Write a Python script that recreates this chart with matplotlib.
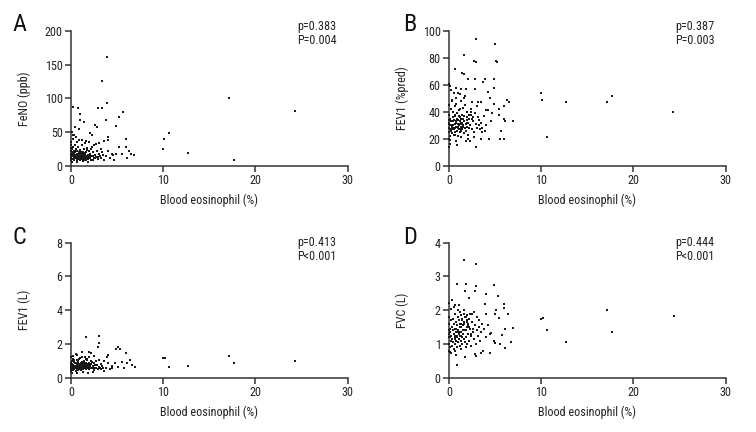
import matplotlib
matplotlib.use("Agg")
import matplotlib.pyplot as plt
from matplotlib import font_manager

# ---------------- data: (blood eosinophil %, value) ----------------
# Panel A: FeNO (ppb)
points_feno = [
    (3.87, 161), (3.4, 126), (3.9, 93), (2.9, 85), (3.4, 85), (0.25, 87), (0.8, 85), (0.94, 77),
    (5.6, 79), (5.2, 72), (3.8, 68), (1.45, 65), (0.98, 68), (2.6, 61), (2.8, 58), (4.9, 59),
    (0.43, 58), (0.9, 55), (2.1, 48), (2.3, 45), (0.15, 50), (0.25, 45), (4.05, 43), (4.0, 38),
    (3.6, 36), (6.0, 40), (6.0, 28), (5.2, 28), (6.3, 22), (6.5, 18), (6.8, 16), (4.9, 17),
    (4.6, 16), (5.5, 17), (6.1, 12), (4.7, 8), (2.9, 13),
    (10.1, 40), (10.6, 49), (10.0, 25), (12.65, 19), (17.17, 100), (17.67, 8), (24.3, 81),
    (0.0, 12), (0.0, 18), (0.0, 22), (0.0, 30), (0.0, 8), (0.05, 15), (0.1, 25), (0.1, 10),
    (0.15, 20), (0.2, 14), (0.2, 28), (0.25, 17), (0.3, 12), (0.3, 22), (0.35, 9), (0.4, 16),
    (0.4, 30), (0.45, 20), (0.5, 13), (0.5, 25), (0.55, 11), (0.6, 18), (0.6, 35), (0.65, 14),
    (0.7, 22), (0.7, 9), (0.75, 16), (0.8, 12), (0.8, 28), (0.85, 19), (0.9, 15), (0.9, 38),
    (0.95, 13), (1.0, 17), (1.0, 24), (1.0, 8), (1.05, 14), (1.1, 12), (1.1, 20), (1.15, 15),
    (1.2, 13), (1.2, 30), (1.25, 16), (1.3, 11), (1.3, 18), (1.35, 14), (1.4, 15), (1.4, 25),
    (1.45, 12), (1.5, 16), (1.5, 33), (1.55, 13), (1.6, 15), (1.6, 20), (1.65, 11), (1.7, 14),
    (1.7, 27), (1.8, 16), (1.8, 10), (1.9, 13), (1.9, 22), (2.0, 15), (2.0, 35), (2.1, 12),
    (2.1, 18), (2.2, 9), (2.2, 25), (2.3, 14), (2.4, 20), (2.5, 11), (2.5, 30), (2.6, 16),
    (2.7, 13), (2.8, 22), (2.9, 10), (3.0, 18), (3.0, 33), (3.1, 14), (3.2, 25), (3.3, 12),
    (3.4, 20), (3.5, 16), (3.6, 9), (3.8, 15), (4.0, 22), (4.2, 12), (4.4, 18), (0.2, 40),
    (0.5, 42), (1.2, 38), (1.6, 36), (2.3, 28), (2.7, 32), (0.1, 5), (0.6, 6), (1.3, 7),
    (1.8, 6), (2.4, 8), (0.05, 35), (0.3, 45), (0.0, 15), (0.1, 20), (0.2, 18), (0.35, 13),
    (0.45, 16), (0.55, 14), (0.65, 17), (0.75, 13), (0.85, 15), (0.95, 14), (1.05, 16), (1.15, 13),
    (1.25, 15), (1.35, 14), (1.45, 16), (1.55, 12), (1.65, 15), (1.75, 14), (1.85, 13), (1.95, 16),
    (2.05, 12), (2.15, 15), (2.35, 14), (2.55, 11), (2.75, 13), (0.0, 26), (0.1, 21), (0.3, 19),
    (0.5, 23), (0.7, 18), (0.9, 20), (1.1, 17), (1.3, 21), (1.5, 19), (1.7, 23), (1.2, 10),
    (1.4, 9), (1.0, 11), (0.8, 10), (1.6, 9),
]

# Panel B: FEV1 (%pred)
points_fev1_pred = [
    (2.96, 94), (5.0, 90), (1.63, 82), (2.7, 78), (2.96, 77), (5.2, 77), (5.06, 78), (0.69, 72),
    (1.45, 69), (1.63, 68), (0.0, 61), (0.15, 59), (2.06, 64), (2.86, 64), (3.87, 64), (3.7, 62),
    (4.9, 64), (4.9, 58), (2.8, 57), (0.8, 58), (1.3, 57), (0.98, 54), (1.7, 52), (1.2, 53),
    (0.8, 50), (0.3, 49), (6.3, 49), (6.5, 47), (6.0, 44), (4.9, 46), (2.5, 47), (3.1, 47),
    (3.5, 47), (4.0, 41), (4.2, 41), (5.4, 42), (4.7, 39), (6.0, 35), (6.1, 33), (6.9, 33),
    (5.4, 38), (4.6, 33), (3.6, 28), (3.9, 26), (5.6, 26), (4.3, 20), (5.5, 20), (6.0, 20),
    (3.5, 20), (2.96, 14), (2.06, 20), (1.8, 18), (0.72, 18), (0.87, 15), (0.15, 16), (0.0, 14),
    (9.94, 54), (10.1, 49), (10.6, 21), (12.65, 47), (17.17, 47), (17.7, 52), (24.3, 40),
    (0.0, 25), (0.0, 32), (0.0, 38), (0.0, 45), (0.0, 20), (0.05, 28), (0.1, 35), (0.1, 22),
    (0.15, 30), (0.2, 26), (0.2, 42), (0.25, 33), (0.3, 27), (0.3, 48), (0.35, 24), (0.4, 36),
    (0.4, 30), (0.45, 40), (0.5, 27), (0.5, 34), (0.55, 23), (0.6, 31), (0.6, 44), (0.65, 28),
    (0.7, 37), (0.7, 25), (0.75, 32), (0.8, 29), (0.8, 46), (0.85, 35), (0.9, 26), (0.9, 39),
    (0.95, 31), (1.0, 28), (1.0, 34), (1.0, 22), (1.05, 30), (1.1, 27), (1.1, 41), (1.15, 33),
    (1.2, 25), (1.2, 36), (1.25, 29), (1.3, 32), (1.3, 48), (1.35, 26), (1.4, 38), (1.4, 31),
    (1.45, 27), (1.5, 35), (1.5, 43), (1.55, 29), (1.6, 33), (1.6, 24), (1.65, 37), (1.7, 28),
    (1.7, 45), (1.8, 31), (1.8, 26), (1.9, 34), (1.9, 40), (2.0, 29), (2.0, 36), (2.1, 23),
    (2.1, 32), (2.2, 28), (2.2, 38), (2.3, 30), (2.4, 42), (2.5, 27), (2.5, 35), (2.6, 33),
    (2.7, 25), (2.8, 39), (2.9, 31), (3.0, 44), (3.0, 28), (3.1, 36), (3.2, 30), (3.3, 34),
    (3.4, 27), (3.5, 32), (3.6, 25), (3.8, 37), (4.0, 30), (4.2, 55), (4.4, 50), (0.2, 56),
    (0.5, 54), (1.2, 42), (1.6, 50), (2.3, 18), (2.7, 21), (0.1, 19), (0.6, 23), (1.3, 21),
    (1.8, 57), (2.4, 40), (0.05, 34), (0.3, 29), (0.0, 31), (0.1, 27), (0.35, 30), (0.55, 28),
    (0.75, 33), (0.95, 29), (1.15, 31), (1.35, 27), (1.55, 30), (1.75, 28), (1.95, 32), (2.15, 35),
    (2.35, 38), (2.55, 36), (0.45, 33), (0.65, 38), (0.85, 34), (1.05, 37), (1.25, 35), (1.45, 32),
]

# Panel C: FEV1 (L)
points_fev1_l = [
    (1.63, 2.43), (3.04, 2.47), (3.04, 2.07), (2.9, 1.82), (5.13, 1.8), (5.3, 1.68), (4.9, 1.68),
    (6.0, 1.45), (4.05, 1.33), (3.87, 1.25), (6.4, 1.05), (5.5, 0.95), (6.6, 0.75), (6.9, 0.65),
    (4.77, 0.85), (5.13, 0.65), (6.1, 0.9), (5.8, 0.55), (4.4, 0.6), (3.6, 1.0), (3.3, 0.8),
    (2.2, 1.45), (2.5, 1.3), (1.2, 1.5), (1.9, 1.55), (0.6, 1.35),
    (10.0, 1.18), (10.2, 1.15), (10.6, 0.65), (12.65, 0.72), (17.17, 1.3), (17.7, 0.88), (24.3, 0.97),
    (0.0, 0.5), (0.0, 0.7), (0.0, 0.9), (0.0, 1.2), (0.0, 0.4), (0.05, 0.6), (0.1, 0.8), (0.1, 1.0),
    (0.15, 0.55), (0.2, 0.75), (0.2, 1.1), (0.25, 0.45), (0.3, 0.65), (0.3, 0.95), (0.35, 0.5),
    (0.4, 0.7), (0.4, 0.85), (0.45, 0.6), (0.5, 0.4), (0.5, 0.9), (0.55, 0.55), (0.6, 0.75),
    (0.6, 1.05), (0.65, 0.5), (0.7, 0.65), (0.7, 0.85), (0.75, 0.6), (0.8, 0.45), (0.8, 0.95),
    (0.85, 0.7), (0.9, 0.55), (0.9, 0.8), (0.95, 0.65), (1.0, 0.5), (1.0, 0.75), (1.0, 1.15),
    (1.05, 0.6), (1.1, 0.45), (1.1, 0.85), (1.15, 0.7), (1.2, 0.55), (1.2, 0.95), (1.25, 0.65),
    (1.3, 0.5), (1.3, 0.8), (1.35, 0.6), (1.4, 0.7), (1.4, 1.0), (1.45, 0.55), (1.5, 0.75),
    (1.5, 1.25), (1.55, 0.6), (1.6, 0.5), (1.6, 0.85), (1.65, 0.65), (1.7, 0.7), (1.7, 1.1),
    (1.8, 0.55), (1.8, 0.8), (1.9, 0.6), (1.9, 0.9), (2.0, 0.5), (2.0, 1.2), (2.1, 0.65),
    (2.1, 0.75), (2.2, 0.55), (2.2, 1.0), (2.3, 0.6), (2.4, 0.7), (2.5, 0.45), (2.5, 0.85),
    (2.6, 0.6), (2.7, 0.55), (2.8, 0.75), (2.9, 0.5), (3.0, 0.65), (3.0, 1.05), (3.1, 0.6),
    (3.2, 0.8), (3.3, 0.5), (3.4, 0.7), (3.5, 0.55), (3.6, 0.4), (3.8, 0.6), (4.0, 0.9),
    (4.2, 0.5), (4.4, 0.7), (0.2, 1.3), (0.5, 1.4), (1.2, 1.2), (1.6, 1.1), (2.3, 0.95),
    (2.7, 1.0), (0.1, 0.3), (0.6, 0.3), (1.3, 0.35), (1.8, 0.3), (2.4, 0.35), (0.05, 1.25),
    (0.3, 1.05), (0.0, 0.75), (0.1, 0.65), (0.35, 0.6), (0.55, 0.7), (0.75, 0.8), (0.95, 0.65),
    (1.15, 0.6), (1.35, 0.7), (1.55, 0.75), (1.75, 0.65), (1.95, 0.7), (2.15, 0.8), (2.35, 0.6),
    (2.55, 0.75), (0.45, 0.55), (0.65, 0.6), (0.85, 0.7), (1.05, 0.75), (1.25, 0.65), (1.45, 0.55),
    (1.65, 0.8), (1.85, 0.7), (2.05, 0.6), (0.3, 0.95), (0.8, 1.0), (1.1, 0.9), (1.4, 0.85),
    (0.9, 1.1), (1.7, 1.05),
]

# Panel D: FVC (L)
points_fvc = [
    (1.63, 3.5), (2.96, 3.36), (0.9, 2.77), (1.88, 2.79), (2.96, 2.72), (1.7, 2.57), (2.78, 2.57),
    (4.88, 2.74), (3.98, 2.49), (5.3, 2.42), (2.2, 2.37), (0.69, 2.14), (1.05, 2.14), (6.0, 2.17),
    (6.0, 2.07), (3.87, 2.17), (5.1, 2.02), (6.4, 1.88), (4.95, 1.88), (5.4, 1.78), (4.05, 1.88),
    (6.9, 1.48), (5.7, 1.28), (6.1, 1.43), (4.6, 1.33), (4.84, 1.09), (4.95, 1.04), (5.56, 0.99),
    (6.7, 1.06), (6.1, 0.87), (4.4, 0.74), (3.7, 0.79), (3.5, 0.74), (2.96, 0.64), (2.8, 0.69),
    (1.7, 0.62), (0.9, 0.38), (0.72, 0.66), (0.25, 0.74),
    (9.94, 1.75), (10.2, 1.78), (10.6, 1.41), (12.7, 1.06), (17.17, 2.02), (17.7, 1.36), (24.4, 1.83),
    (0.0, 1.0), (0.0, 1.3), (0.0, 1.6), (0.0, 1.8), (0.0, 0.8), (0.05, 1.2), (0.1, 1.45), (0.1, 0.9),
    (0.15, 1.35), (0.2, 1.1), (0.2, 1.7), (0.25, 1.25), (0.3, 0.95), (0.3, 1.5), (0.35, 1.15),
    (0.4, 1.4), (0.4, 1.75), (0.45, 1.05), (0.5, 1.3), (0.5, 1.6), (0.55, 0.85), (0.6, 1.2),
    (0.6, 1.9), (0.65, 1.0), (0.7, 1.45), (0.7, 1.25), (0.75, 1.65), (0.8, 1.1), (0.8, 1.35),
    (0.85, 0.9), (0.9, 1.55), (0.9, 1.2), (0.95, 1.8), (1.0, 1.05), (1.0, 1.4), (1.0, 2.0),
    (1.05, 1.15), (1.1, 1.3), (1.1, 1.7), (1.15, 0.95), (1.2, 1.5), (1.2, 1.25), (1.25, 1.6),
    (1.3, 1.1), (1.3, 1.85), (1.35, 1.35), (1.4, 1.2), (1.4, 1.75), (1.45, 1.0), (1.5, 1.55),
    (1.5, 1.4), (1.55, 1.3), (1.6, 1.9), (1.6, 1.15), (1.65, 1.65), (1.7, 1.05), (1.7, 1.8),
    (1.8, 1.4), (1.8, 1.2), (1.9, 1.7), (1.9, 1.0), (2.0, 1.5), (2.0, 1.85), (2.1, 1.3),
    (2.1, 1.6), (2.2, 1.1), (2.2, 1.75), (2.3, 1.45), (2.4, 1.25), (2.5, 1.65), (2.5, 1.9),
    (2.6, 1.35), (2.7, 1.15), (2.8, 1.55), (2.9, 1.0), (3.0, 1.8), (3.0, 1.4), (3.1, 1.25),
    (3.2, 1.7), (3.3, 1.5), (3.4, 1.1), (3.5, 1.35), (3.6, 1.6), (3.8, 1.45), (4.0, 1.2),
    (4.2, 1.55), (4.4, 1.3), (0.2, 2.05), (0.5, 2.1), (1.2, 1.95), (1.6, 2.0), (2.3, 1.9),
    (2.7, 1.95), (0.1, 0.75), (0.6, 0.8), (1.3, 0.85), (1.8, 0.9), (2.4, 0.95), (0.05, 2.2),
    (0.3, 2.3), (0.0, 1.4), (0.1, 1.2), (0.35, 1.5), (0.55, 1.3), (0.75, 1.45), (0.95, 1.35),
    (1.15, 1.6), (1.35, 1.25), (1.55, 1.55), (1.75, 1.4), (1.95, 1.65), (2.15, 1.5), (2.35, 1.3),
    (2.55, 1.45), (0.45, 1.05), (0.65, 1.15), (0.85, 1.25), (1.05, 1.35), (1.25, 1.5), (1.45, 1.7),
    (1.65, 1.6), (1.85, 1.8), (2.05, 1.55),
]

xlabel = "Blood eosinophil (%)"
ylabels = ["FeNO (ppb)", "FEV1 (%pred)", "FEV1 (L)", "FVC (L)"]
panel_letters = ["A", "B", "C", "D"]
stats = ["p=0.383\nP=0.004", "p=0.387\nP=0.003", "p=0.413\nP<0.001", "p=0.444\nP<0.001"]
ylims = [200, 100, 8, 4]
yticks = [[0, 50, 100, 150, 200], [0, 20, 40, 60, 80, 100], [0, 2, 4, 6, 8], [0, 1, 2, 3, 4]]
xticks = [0, 10, 20, 30]

# ---------------- style ----------------
names = {f.name for f in font_manager.fontManager.ttflist}
prefs = ["Liberation Sans Narrow", "Roboto Condensed", "Roboto", "Liberation Sans"]
main = next((n for n in prefs if n in names), "DejaVu Sans")
plt.rcParams["font.family"] = [main, "DejaVu Sans"]

W, H = 756, 432
fig = plt.figure(figsize=(W / 100, H / 100), dpi=100)

# axes boxes in pixels: (left, top, right, bottom)
boxes = [(71, 31, 347.7, 165.7), (449, 31, 725.7, 165.7),
         (71, 242.7, 347.7, 377.7), (449, 242.7, 725.7, 377.7)]
letter_pos = [(12, 13), (403, 13), (13, 226), (403, 226)]
stat_pos = [(297, 20), (675, 20), (297, 236), (675, 236)]

data = [points_feno, points_fev1_pred, points_fev1_l, points_fvc]
spine_c = "#333333"
txt_c = "#222222"
fs = 8.7

for i in range(4):
    l, t, r, b = boxes[i]
    ax = fig.add_axes([l / W, 1 - b / H, (r - l) / W, (b - t) / H])
    x = [p[0] for p in data[i]]
    y = [p[1] for p in data[i]]
    ax.scatter(x, y, s=2.0, marker="s", color="#1a1a1a", linewidths=0, clip_on=False, zorder=3)
    ax.set_xlim(0, 30)
    ax.set_ylim(0, ylims[i])
    ax.set_xticks(xticks)
    ax.set_yticks(yticks[i])
    for s in ["top", "right"]:
        ax.spines[s].set_visible(False)
    for s in ["left", "bottom"]:
        ax.spines[s].set_color(spine_c)
        ax.spines[s].set_linewidth(1.1)
    ax.tick_params(direction="out", length=4, width=1.1, color=spine_c, labelsize=fs, pad=2,
                   labelcolor=txt_c)
    ax.set_xlabel(xlabel, fontsize=fs, color=txt_c)
    ax.xaxis.set_label_coords(0.5, -0.21)
    ax.set_ylabel(ylabels[i], fontsize=fs, color=txt_c)
    ax.yaxis.set_label_coords(-0.145, 0.5)
    lx, ly = letter_pos[i]
    fig.text(lx / W, 1 - ly / H, panel_letters[i], fontsize=17.5, va="top", ha="left", color="#111111")
    sx, sy = stat_pos[i]
    fig.text(sx / W, 1 - sy / H, stats[i], fontsize=fs, va="top", ha="left", linespacing=1.1,
             color=txt_c)

fig.savefig("out.png", dpi=100)
